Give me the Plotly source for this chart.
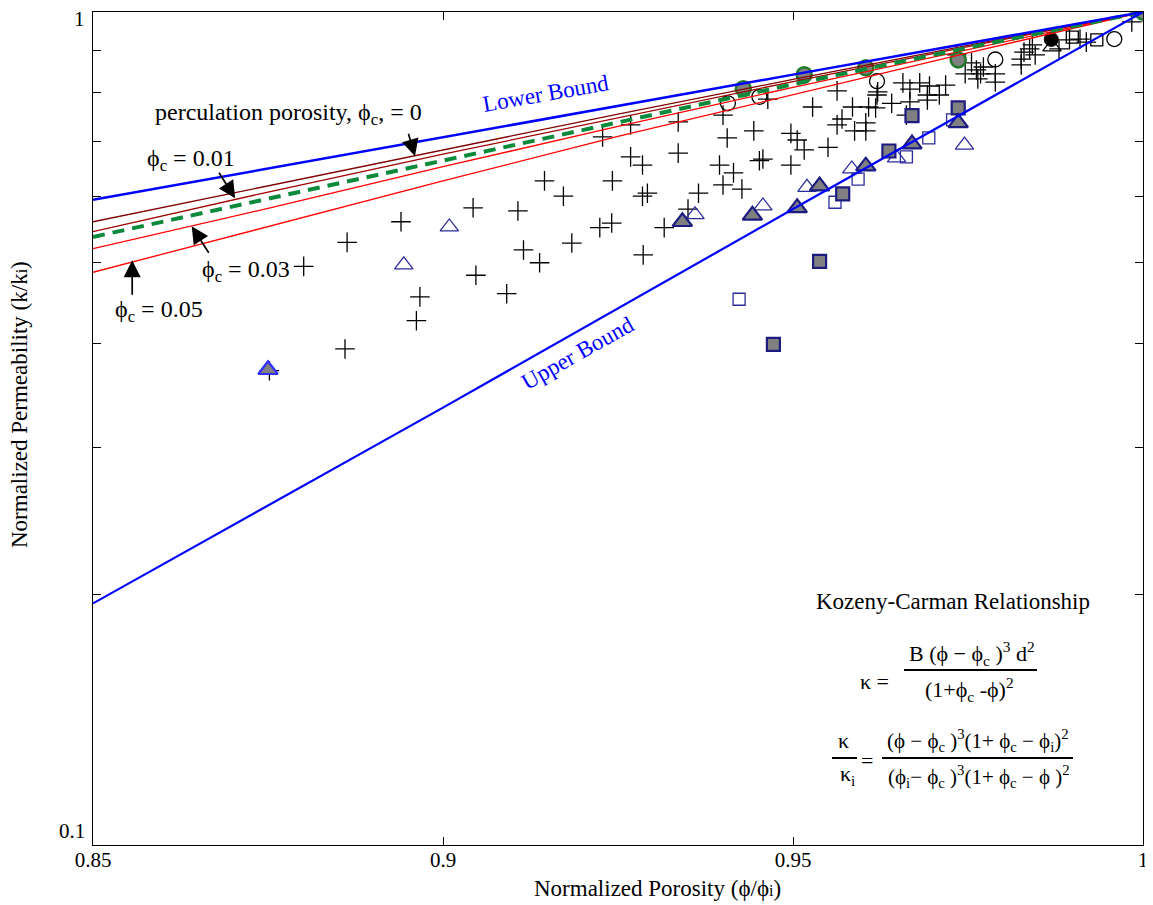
import plotly.graph_objects as go

# ---------------- data ----------------
plus_x = [0.9228, 0.9145, 0.9242, 0.9172, 0.9043, 0.9107, 0.8940, 0.9224, 0.9241, 0.8863,
          0.9115, 0.9184, 0.9138, 0.8801, 0.9047, 0.9091, 0.8967, 0.8962, 0.8860, 0.8752,
          0.9464, 0.9563, 0.9400, 0.9528, 0.9585, 0.9608, 0.9618, 0.9641, 0.9620, 0.9268,
          0.9336, 0.9444, 0.9406, 0.9497, 0.9506, 0.9516, 0.9570, 0.9563, 0.9604, 0.9588,
          0.9604, 0.9550, 0.9268, 0.9285, 0.9336, 0.9395, 0.9415, 0.9457, 0.9452, 0.9497,
          0.9400, 0.9427, 0.9365, 0.9292, 0.9285, 0.9350, 0.9316, 0.9286,
          0.9734, 0.9755, 0.9746, 0.9762, 0.9768, 0.9764, 0.9772, 0.9789, 0.9789, 0.9830,
          0.9838, 0.9826, 0.9826, 0.9846, 0.9842, 0.9880, 0.9895, 0.9910, 0.9919, 0.9984,
          0.9621, 0.9657, 0.9681, 0.9695, 0.9667, 0.9692, 0.9709, 0.9718, 0.9667, 0.9692,
          0.9662, 1.0000]
plus_y = [0.708, 0.627, 0.627, 0.601, 0.582, 0.577, 0.560, 0.551, 0.558, 0.529,
          0.518, 0.528, 0.500, 0.495, 0.483, 0.459, 0.455, 0.426, 0.394, 0.371,
          0.786, 0.804, 0.752, 0.769, 0.769, 0.769, 0.767, 0.777, 0.795, 0.732,
          0.738, 0.720, 0.706, 0.715, 0.702, 0.683, 0.744, 0.732, 0.736, 0.720,
          0.720, 0.688, 0.670, 0.655, 0.677, 0.655, 0.641, 0.666, 0.663, 0.655,
          0.620, 0.613, 0.606, 0.606, 0.601, 0.580, 0.551, 0.511,
          0.888, 0.869, 0.843, 0.852, 0.843, 0.831, 0.859, 0.843, 0.824, 0.895,
          0.903, 0.878, 0.864, 0.888, 0.913, 0.903, 0.926, 0.928, 0.920, 0.973,
          0.802, 0.822, 0.822, 0.815, 0.808, 0.795, 0.795, 0.817, 0.780, 0.784,
          0.752, 1.000]

open_circle_x = [0.9407, 0.9452, 0.9620, 0.9789, 0.9959]
open_circle_y = [0.777, 0.791, 0.826, 0.877, 0.928]

gray_circle_x = [0.9429, 0.9516, 0.9604, 0.9736, 1.0000]
gray_circle_y = [0.809, 0.841, 0.857, 0.876, 1.000]

black_circle_x = [0.9869]
black_circle_y = [0.927]

open_tri_x = [0.9009, 0.8944, 0.9360, 0.9457, 0.9520, 0.9584, 0.9648, 0.9745]
open_tri_y = [0.552, 0.497, 0.571, 0.585, 0.616, 0.648, 0.668, 0.692]

black_open_tri_x = [0.9870]
black_open_tri_y = [0.908]

gray_tri_x = [0.9342, 0.9442, 0.9506, 0.9538, 0.9604, 0.9670, 0.9736, 1.0000]
gray_tri_y = [0.560, 0.570, 0.582, 0.618, 0.653, 0.694, 0.736, 1.000]

blue_gray_tri_x = [0.8750]
blue_gray_tri_y = [0.372]

open_sq_x = [0.9560, 0.9593, 0.9662, 0.9694, 0.9728, 0.9423]
open_sq_y = [0.591, 0.630, 0.670, 0.706, 0.742, 0.452]

black_open_sq_x = [0.9899, 0.9934]
black_open_sq_y = [0.933, 0.926]

gray_sq_x = [0.9571, 0.9637, 0.9670, 0.9736, 0.9538, 0.9472]
gray_sq_y = [0.605, 0.681, 0.751, 0.767, 0.502, 0.399]

bound_x = [0.85, 0.90, 0.95, 1.00]
lower_bound_y = [0.595, 0.708, 0.841, 1.000]
upper_bound_y = [0.195, 0.335, 0.580, 1.000]

kc_x = [0.85, 0.875, 0.90, 0.925, 0.95, 0.975, 1.00]
kc_000 = [0.560, 0.618, 0.683, 0.754, 0.830, 0.912, 1.000]
kc_001 = [0.545, 0.608, 0.675, 0.747, 0.825, 0.909, 1.000]
kc_002 = [0.537, 0.597, 0.663, 0.738, 0.819, 0.906, 1.000]
kc_003 = [0.520, 0.581, 0.652, 0.729, 0.812, 0.902, 1.000]
kc_005 = [0.487, 0.553, 0.627, 0.709, 0.796, 0.893, 1.000]

x_ticks = [0.85, 0.9, 0.95, 1.0]
x_tick_text = ["0.85", "0.9", "0.95", "1"]
y_major_ticks = [0.1, 1.0]
y_minor_ticks = [0.2, 0.3, 0.4, 0.5, 0.6, 0.7, 0.8, 0.9]
y_tick_text = ["0.1", "1"]

# ---------------- styles ----------------
FONT = "Liberation Serif"
NAVY = "#1c1c80"
NAVY_OPEN = "#2d2d9a"
GRAY = "#808080"
GREEN_EDGE = "#1f7a2c"

fig = go.Figure()

def sc(x, y, symbol, size, color, line_color, line_width):
    fig.add_trace(go.Scatter(
        x=x, y=y, mode="markers",
        marker=dict(symbol=symbol, size=size, color=color,
                    line=dict(color=line_color, width=line_width)),
        showlegend=False, hoverinfo="skip"))

sc(plus_x, plus_y, "cross-thin", 14, "black", "black", 1.3)
sc(open_circle_x, open_circle_y, "circle-open", 15, "black", "black", 1.3)
sc(open_tri_x, open_tri_y, "triangle-up-open", 16, NAVY_OPEN, NAVY_OPEN, 1.3)
sc(black_open_tri_x, black_open_tri_y, "triangle-up-open", 16, "black", "black", 1.3)
sc(open_sq_x, open_sq_y, "square-open", 12, NAVY_OPEN, NAVY_OPEN, 1.3)
sc(black_open_sq_x, black_open_sq_y, "square-open", 12, "black", "black", 1.3)
sc(gray_sq_x, gray_sq_y, "square", 13, GRAY, NAVY, 2.2)
sc(gray_tri_x, gray_tri_y, "triangle-up", 17, GRAY, NAVY, 2.2)
sc(blue_gray_tri_x, blue_gray_tri_y, "triangle-up", 17, GRAY, "#3030ff", 2.2)
sc(gray_circle_x, gray_circle_y, "circle", 15, GRAY, GREEN_EDGE, 2.5)
sc(black_circle_x, black_circle_y, "circle", 14, "black", "black", 1)

def ln(x, y, color, width, dash="solid"):
    fig.add_trace(go.Scatter(
        x=x, y=y, mode="lines", line=dict(color=color, width=width, dash=dash),
        showlegend=False, hoverinfo="skip"))

ln(kc_x, kc_000, "#800000", 1.3)
ln(kc_x, kc_001, "#a00000", 1.3)
ln(kc_x, kc_003, "#ff0000", 1.3)
ln(kc_x, kc_005, "#ff0000", 1.3)
ln(kc_x, kc_002, "#0b8a3b", 4, "12px,8px")
ln(bound_x, lower_bound_y, "#0000ff", 2.5)
ln(bound_x, upper_bound_y, "#0000ff", 2.2)

# ---------------- layout geometry ----------------
# the page body adds an 8px offset; the figure is sized to fit the window
OFF = 8
W, H = 1153 - OFF, 905 - OFF
SL, SR, ST, SB = 93, 1143, 12, 845          # plot frame as seen on screen
L, R, T, B = SL - OFF, W - (SR - OFF), ST - OFF, H - (SB - OFF)
PW, PH = SR - SL, SB - ST

def px(xs):
    return (xs - SL) / PW

def py(ys):
    return (SB - ys) / PH

ann = []

def txt(text, x, y, size=23, color="black", xanchor="center", angle=0):
    ann.append(dict(text=text, x=px(x), y=py(y), xref="paper", yref="paper",
                    xanchor=xanchor, yanchor="middle", showarrow=False,
                    textangle=angle, font=dict(family=FONT, size=size, color=color)))

PHI = "\u03d5"
txt("perculation porosity, " + PHI + "<sub>c</sub>, = 0", 153, 114, size=24, xanchor="left")
txt(PHI + "<sub>c</sub> = 0.01", 145, 160, size=24, xanchor="left")
txt(PHI + "<sub>c</sub> = 0.03", 200, 271, size=24, xanchor="left")
txt(PHI + "<sub>c</sub> = 0.05", 113, 311, size=24, xanchor="left")
txt("Lower Bound", 546, 93, color="#0000ff", angle=-10)
txt("Upper Bound", 577, 353, color="#0000ff", angle=-29.4)

txt("Kozeny-Carman Relationship", 953, 601, size=23)
txt("\u03ba =", 874, 681, size=22)
txt("B (" + PHI + " \u2212 " + PHI + "<sub>c</sub> )<sup>3</sup> d<sup>2</sup>", 972, 653, size=22)
txt("(1+" + PHI + "<sub>c</sub> -" + PHI + ")<sup>2</sup>", 969, 689, size=22)
txt("\u03ba", 843, 740, size=22)
txt("\u03ba<sub>i</sub>", 847, 775, size=22)
txt("=", 867, 760, size=22)
txt("(" + PHI + " \u2212 " + PHI + "<sub>c</sub> )<sup>3</sup>(1+ " + PHI + "<sub>c</sub> \u2212 "
    + PHI + "<sub>i</sub>)<sup>2</sup>", 978, 740, size=21)
txt("(" + PHI + "<sub>i</sub>\u2212 " + PHI + "<sub>c</sub> )<sup>3</sup>(1+ " + PHI
    + "<sub>c</sub> \u2212 " + PHI + " )<sup>2</sup>", 979, 776, size=21)

# axis titles and y tick labels
txt("Normalized Porosity (" + PHI + "/" + PHI + "<span style='font-size:16px'>i</span>)",
    657, 888, size=23)
txt("Normalized Permeability (k/k<span style='font-size:16px'>i</span>)",
    19, 405, size=23, angle=-90)
txt(y_tick_text[1], 87, 19, size=21, xanchor="right")
txt(y_tick_text[0], 87, 831, size=21, xanchor="right")

def arrow(xd, ylog, ax, ay):
    ann.append(dict(text="", x=xd, y=ylog, xref="x", yref="y", ax=ax, ay=ay,
                    showarrow=True, arrowhead=2, arrowsize=2, arrowwidth=1.7,
                    arrowcolor="black", standoff=0))

arrow(0.8960, -0.1731, -7, -24)
arrow(0.8703, -0.2236, -17, -27)
arrow(0.8641, -0.2572, 18, 28)
arrow(0.8556, -0.2981, 0, 36)

shapes = []

def hline(x0, x1, y):
    shapes.append(dict(type="line", xref="paper", yref="paper",
                       x0=px(x0), x1=px(x1), y0=py(y), y1=py(y),
                       line=dict(color="black", width=2)))

hline(904, 1037, 670)
hline(832, 857, 758)
hline(882, 1073, 758)

fig.update_layout(
    width=W, height=H,
    margin=dict(l=L, r=R, t=T, b=B, autoexpand=False),
    paper_bgcolor="white", plot_bgcolor="white",
    font=dict(family=FONT, size=21, color="black"),
    annotations=ann, shapes=shapes,
    xaxis=dict(range=[0.85, 1.0], tickvals=x_ticks, ticktext=x_tick_text,
               ticks="inside", ticklen=8, tickwidth=1, tickcolor="black",
               ticklabelstandoff=-4,
               showline=True, linecolor="black", linewidth=1.2, mirror="ticks",
               showgrid=False, zeroline=False, automargin=False,
               tickfont=dict(family=FONT, size=21)),
    yaxis=dict(type="log", range=[-1, 0], tickvals=y_major_ticks,
               showticklabels=False,
               ticks="inside", ticklen=8, tickwidth=1, tickcolor="black",
               minor=dict(tickvals=y_minor_ticks, ticks="inside", ticklen=8,
                          tickwidth=1, tickcolor="black"),
               showline=True, linecolor="black", linewidth=1.2, mirror="ticks",
               showgrid=False, zeroline=False, automargin=False),
)

fig.write_html("out.html")
